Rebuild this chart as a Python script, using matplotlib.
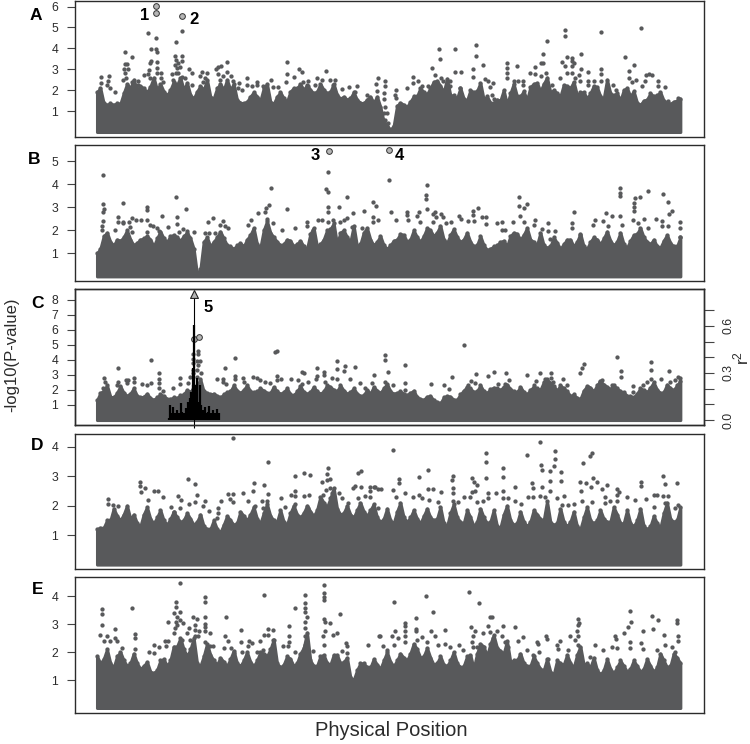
import numpy as np
import matplotlib
matplotlib.use("Agg")
import matplotlib.pyplot as plt

plt.rcParams['font.family'] = ['Liberation Sans', 'DejaVu Sans']
plt.rcParams['mathtext.default'] = 'regular'

DARK = '#58595b'
INK = '#2b2b2b'

# top of the solid band of points, one value every 20 position units
a_top = [1.9,1.37,1.37,1.37,1.85,2.09,2.01,2.09,2.17,2.01,1.93,2.01,2.25,2.01,1.77,1.93,2.01,1.69,2.09,2.01,2.01,1.53,1.37,1.69,1.69,2.09,1.45,1.69,1.61,1.93,2.09,2.01,2.01,1.93,2.01,1.93,1.77,1.69,1.61,1.53,1.37,
         1.69,1.69,0.5,0.1,1.25,1.3,1.45,1.7,1.9,2.1,2.45,1.9,1.75,1.6,1.6,2.0,1.95,1.55,1.4,1.55,2.0,1.85,1.7,1.95,2.15,2.35,2.3,1.9,1.85,2.25,2.1,1.75,1.9,1.85,2.15,1.6,1.85,1.85,2.0,1.7,1.4,1.5,1.85,1.75,1.5,1.35,1.5]
b_top = [1.0,1.75,1.5,1.6,1.7,1.6,1.45,1.65,1.6,1.65,1.65,1.75,1.7,1.75,1.65,0.1,1.5,1.3,1.7,1.65,1.3,1.35,1.3,1.8,1.4,2.0,1.9,1.5,1.4,1.55,1.4,1.3,1.85,1.3,1.6,2.05,1.4,2.0,1.5,1.3,1.9,
         1.6,1.5,1.35,1.35,1.6,1.8,1.6,1.7,1.75,2.0,1.9,1.6,1.8,1.7,1.6,1.5,1.35,1.35,1.2,1.35,1.55,1.75,1.85,1.8,1.6,1.35,1.35,1.3,1.45,1.4,1.6,1.5,1.3,1.5,1.6,1.65,1.55,1.5,1.4,1.55,1.85,1.7,1.4,1.3,1.55,1.45,1.3]
c_top = [1.3,1.95,1.55,1.8,1.8,1.75,1.6,1.55,1.45,1.5,1.6,1.4,1.45,1.7,1.85,2.3,1.9,1.7,1.6,1.7,1.9,1.95,2.0,1.9,1.9,1.95,1.8,1.9,1.85,1.7,1.9,1.85,1.85,1.9,1.9,2.2,1.9,1.95,1.85,1.75,1.65,
         1.75,1.95,2.1,1.9,1.8,1.75,1.8,1.5,1.35,1.6,1.2,1.5,1.55,1.35,1.95,2.1,1.9,1.9,2.05,2.1,2.2,2.05,1.85,1.85,2.0,2.1,2.5,2.45,1.95,2.1,1.6,1.45,1.95,2.15,2.3,2.35,2.05,2.1,1.85,1.6,1.75,2.0,2.15,2.0,1.85,2.1,2.3]
d_top = [1.2,1.25,1.5,1.65,1.7,1.55,1.4,1.7,1.55,1.6,1.5,1.55,1.6,1.5,1.55,1.45,1.3,1.2,1.2,1.35,1.5,1.4,1.65,1.7,1.55,1.75,1.65,1.45,1.45,1.75,1.7,1.75,1.8,1.85,2.1,2.25,1.9,1.75,1.7,1.85,1.8,
         1.85,1.6,1.55,1.5,1.8,1.6,1.6,1.55,1.65,1.6,1.55,1.4,1.75,1.6,1.4,1.6,1.45,1.6,1.45,1.3,1.7,1.5,1.4,1.45,1.45,1.7,1.5,1.45,1.4,1.45,1.45,1.3,1.6,1.5,1.5,1.55,1.45,1.7,1.4,1.4,1.5,1.3,1.3,1.4,1.75,1.55,1.5]
e_top = [1.85,1.75,1.6,1.85,1.7,1.6,1.6,1.5,1.3,1.35,1.75,1.7,2.2,2.1,2.1,1.6,1.85,1.9,1.55,1.65,1.75,1.6,1.7,1.65,1.7,1.95,2.1,1.6,1.55,1.75,1.6,2.15,1.7,1.5,1.9,1.55,1.9,1.65,1.1,1.35,1.6,
         1.45,1.55,1.7,1.65,1.7,1.8,1.95,2.1,1.85,1.8,1.6,1.55,1.7,1.6,1.5,1.9,1.95,2.2,2.3,2.15,1.95,1.65,1.7,1.6,1.5,1.6,1.35,1.3,1.7,1.55,1.6,1.9,1.55,1.45,1.35,1.35,1.4,1.45,1.5,1.4,1.5,1.4,1.5,1.45,1.7,1.5,1.8]

# the same band read halfway between those positions (spikes and notches)
a_mid = [2.1,1.3,1.3,1.35,2.3,2.5,2.2,1.9,2.6,2.3,1.75,2.4,2.6,2.35,1.6,2.2,2.5,1.6,2.3,2.5,2.3,1.4,1.45,1.9,1.5,2.3,1.35,1.9,1.45,2.1,2.3,2.25,1.85,2.3,1.85,2.3,1.6,1.55,1.9,1.4,1.55,
         1.4,1.2,0.3,0.3,1.4,1.2,1.7,2.1,1.8,2.4,2.2,2.55,1.75,2.1,1.5,1.9,2.35,1.7,1.4,1.5,1.3,2.3,1.7,1.5,2.3,1.95,2.6,2.0,1.7,2.2,2.4,1.9,1.6,2.2,1.7,2.5,1.75,1.5,2.1,1.95,1.3,1.55,1.7,1.9,1.4,1.45,1.6]
b_mid = [1.2,1.9,1.35,1.55,2.0,1.35,1.6,1.75,1.3,1.95,1.5,1.8,1.55,1.9,1.2,0.3,1.7,1.5,1.95,1.35,1.2,1.45,1.6,2.1,1.25,2.4,1.7,1.35,1.6,1.3,1.55,1.2,2.1,1.4,2.0,2.3,1.9,1.7,2.2,1.4,2.1,
         1.35,1.75,1.2,1.55,1.85,1.5,2.0,1.5,2.1,1.75,2.2,1.45,2.05,1.5,1.9,1.3,1.75,1.15,1.3,1.5,1.3,1.9,1.6,2.1,1.5,1.9,1.25,1.7,1.2,1.6,1.3,1.85,1.2,1.7,1.4,1.95,1.35,1.9,1.25,1.8,2.1,1.5,1.6,1.25,1.8,1.3,1.7]
c_mid = [1.8,2.3,1.5,2.25,1.6,2.1,1.5,1.75,1.35,1.7,1.4,1.5,1.65,2.0,2.2,2.7,1.8,1.75,1.5,1.85,2.3,1.8,2.3,1.85,2.1,1.8,2.2,1.75,2.1,1.65,2.25,1.75,2.2,1.75,2.3,2.0,2.3,1.75,2.1,1.6,2.0,
         2.2,1.8,2.4,1.75,1.9,1.65,1.95,1.4,1.55,1.3,1.1,1.6,1.35,1.7,2.2,1.85,2.3,1.8,2.15,2.0,2.35,1.9,2.2,1.7,2.2,2.0,2.7,2.25,2.3,1.9,1.7,1.4,2.25,1.9,2.6,2.2,2.3,1.9,1.6,1.5,2.1,1.85,2.5,1.8,2.35,2.0,2.6]
d_mid = [1.25,1.5,1.9,1.5,2.0,1.7,1.3,1.95,1.4,1.85,1.35,1.8,1.45,1.75,1.35,1.7,1.2,1.5,1.1,1.65,1.35,1.8,1.5,1.95,1.4,2.05,1.5,1.85,1.35,2.0,1.6,2.0,1.65,2.3,1.95,2.6,1.7,2.0,1.6,2.1,1.65,
         2.05,1.45,1.9,1.4,2.1,1.45,1.85,1.4,1.9,1.5,1.95,1.3,2.05,1.45,1.85,1.3,1.9,1.4,1.85,1.25,2.0,1.35,1.8,1.3,1.85,1.55,2.15,1.35,1.9,1.3,1.8,1.2,1.95,1.4,1.85,1.45,1.95,1.4,1.85,1.3,1.9,1.2,1.65,1.25,2.1,1.45,1.95]
e_mid = [1.6,2.1,1.45,2.0,1.5,1.95,1.4,1.65,1.25,1.7,1.5,2.2,2.5,1.85,2.5,1.5,2.3,1.7,1.8,1.5,2.05,1.5,2.0,1.5,2.0,1.85,2.45,1.45,1.85,1.5,1.95,2.7,1.5,1.85,1.6,1.9,1.6,1.8,1.0,1.6,1.45,
         1.75,1.4,2.0,1.5,1.95,1.7,2.3,1.8,2.15,1.55,1.85,1.5,2.0,1.45,1.85,1.4,2.3,1.85,2.6,2.05,2.4,1.7,1.95,1.5,1.85,1.4,1.75,1.2,1.6,1.9,1.45,2.2,1.6,1.8,1.2,1.75,1.25,1.7,1.3,1.7,1.3,1.75,1.3,1.95,1.45,1.95,1.6]

# single SNPs standing out above the band: (position, -log10 P)
a_snps = [(153,4.75),(177,4.51),(255,4.85),(237,4.29),(84,3.84),(104,3.57),(162,3.97),(177,3.96),(179,3.84),(162,3.4),(159,3.29),(179,3.37),(181,3.08),
 (234,3.64),(254,3.64),(236,3.45),(254,3.4),(244,3.29),(234,3.2),(249,3.13),(239,3.05),(276,3.0),(284,2.81),(84,3.24),(89,3.24),(81,3.01),(94,3.0),(84,2.81),(87,2.57),(79,2.49),(104,2.38),(122,2.44),(122,2.25),
 (12,2.62),(12,2.33),(35,2.66),(34,2.44),(29,2.25),(39,2.09),(54,1.93),(142,2.73),(154,2.78),(157,2.97),(159,2.57),(179,2.84),(191,2.84),(192,2.57),(199,2.41),
 (224,2.78),(237,2.84),(244,2.84),(254,2.65),(264,2.57),(229,2.49),(286,2.25),(314,2.89),(329,2.84),(309,2.68),(324,2.57),(319,2.41),
 (356,3.0),(364,3.09),(372,3.16),(390,3.37),(390,2.89),(364,2.78),(379,2.68),(402,2.68),(369,2.49),(409,2.44),(425,2.33),(424,2.09),(434,2.01),
 (450,2.6),(449,2.25),(464,2.2),(481,2.41),(479,2.25),(522,2.49),(499,2.2),(527,2.17),(544,2.17),(566,2.41),(569,3.33),(569,2.78),(591,2.65),(606,3.01),(614,2.89),(617,2.41),(634,2.44),(634,2.2),(654,2.25),(659,2.57),(674,2.49),(688,2.92),(699,2.49),(714,2.49),(709,2.25),(736,2.04),(757,2.17),(781,2.2),(774,1.93),(809,1.77),(842,2.58),(836,2.3),(841,1.98),
 (864,2.44),(864,2.2),(861,1.85),(861,1.56),(864,1.18),(861,.89),(869,.89),(849,.41),(864,.57),(874,.41),(874,.18),(897,2.01),(894,1.77),(897,1.61),
 (1026,3.97),(1029,3.48),(1005,3.08),(1015,2.73),(1031,2.57),(1039,2.44),(1059,2.44),(1059,2.2),(1074,3.97),(1074,2.89),(1091,2.89),(1089,2.09),(1137,4.16),(1137,3.65),(1159,3.19),(1129,3.01),(1129,2.65),(1164,2.54),(1174,2.44),(1189,2.33),(1179,2.14),(1184,1.77),(1191,1.56),
 (949,2.62),(949,2.33),(929,2.12),(964,2.44),(974,2.2),(994,2.2),(1231,3.29),(1231,3.08),(1231,2.84),(1231,2.57),(1259,3.16),(1251,2.44),(1264,2.44),(1279,2.44),(1279,2.25),
 (1299,2.81),(1314,2.78),(1314,3.13),(1331,3.29),(1339,3.29),(1339,3.73),(1349,4.34),(1331,2.68),(1346,2.81),(1364,2.25),(1389,2.57),
 (1404,4.88),(1404,4.61),(1394,3.37),(1409,3.6),(1404,3.17),(1426,3.52),(1426,3.41),(1432,3.29),(1426,3.17),(1451,3.72),(1451,3.01),(1447,2.73),(1449,2.44),(1409,2.84),(1424,2.84),(1434,2.57),(1473,2.89),(1473,2.44),(1473,2.25),(1491,2.44),(1511,4.77),(1513,3.01),(1513,2.78),(1513,2.44),(1547,2.25),(1557,2.01),
 (1584,3.57),(1611,3.19),(1597,2.92),(1597,2.57),(1617,2.49),(1604,2.41),(1633,4.98),(1647,2.73),(1657,2.78),(1664,2.73),(1644,2.44),(1634,2.2),(1684,2.44),(1684,2.2),(1704,2.14),(1714,1.48),(1744,1.61)]

b_snps = [(18,4.39),(18,3.14),(20,2.91),(17,2.81),(17,2.42),(15,2.19),(15,2.01),(79,3.17),(64,2.57),(64,2.38),(77,2.38),(79,2.3),(54,2.01),(104,2.55),(117,2.45),(131,2.45),(97,2.38),(99,2.13),(104,1.94),
 (151,3.03),(151,2.88),(149,2.45),(159,2.23),(149,1.94),(169,2.19),(179,2.09),(187,1.99),(195,2.62),(214,2.16),(236,3.46),(239,2.57),(266,2.93),(241,2.26),(246,1.94),(259,2.04),(291,1.94),(269,1.99),
 (334,2.35),(349,2.52),(324,1.9),(337,1.9),(354,1.9),(369,2.23),(379,2.41),(384,2.19),(394,2.09),(461,2.45),(454,2.23),(484,2.74),(507,2.96),(515,3.1),(521,3.83),(509,2.49),(529,2.3),(504,2.81),(569,2.91),(554,2.01),(594,2.09),(631,2.38),(631,2.19),(664,2.45),(674,2.45),(649,2.01),
 (694,4.54),(687,3.78),(694,3.65),(751,3.43),(727,3.03),(694,3.03),(694,2.81),(767,2.77),(802,2.84),(827,3.25),(836,3.07),(749,2.55),(729,2.38),(742,2.45),(709,2.45),(694,2.38),(829,2.59),(829,2.38),(844,2.45),(764,2.13),(794,2.09),
 (877,4.19),(991,3.99),(986,3.54),(986,3.35),(991,2.93),(882,2.78),(896,2.45),(929,2.78),(929,2.67),(967,2.81),(961,2.62),(934,2.45),(969,2.38),(1014,2.78),(1009,2.71),(1016,2.57),(1031,2.71),(1039,2.59),(1009,2.38),(1047,2.3),(1062,2.35),(1087,2.62),(1091,2.48),(1114,2.41),(1129,2.86),(1144,2.96),(1129,2.67),(1131,2.41),(1154,2.59),(1166,2.59),(1166,2.26),
 (1199,2.3),(1214,2.38),(1214,2.01),(1224,2.01),(1247,2.38),(1266,3.43),(1266,3.07),(1289,3.14),(1282,2.96),(1269,2.62),(1281,2.38),(1314,2.45),(1311,2.23),(1354,2.3),(1334,2.04),(1354,1.99),(1374,1.99),(1359,1.61),(1432,2.78),(1424,2.3),(1426,2.09),(1449,1.8),
 (1494,2.45),(1489,2.23),(1519,2.41),(1526,2.74),(1544,2.64),(1569,3.86),(1569,3.61),(1569,3.51),(1569,2.64),(1574,2.23),(1534,2.19),
 (1614,3.39),(1629,3.46),(1654,3.71),(1699,3.58),(1712,3.22),(1611,3.17),(1612,3.03),(1612,2.84),(1724,2.84),(1716,2.71),(1609,2.45),(1641,2.49),(1624,2.3),(1677,2.49),(1696,2.41),(1694,2.19),(1714,2.19),(1749,2.38),(1749,2.1),(1749,1.72),(1654,2.09)]

c_snps = [(64,3.43),(162,3.96),(187,3.1),(162,2.48),(187,2.7),(187,2.44),(22,2.81),(24,2.55),(19,2.1),(64,2.55),(59,2.33),(87,2.66),(94,2.66),(89,2.44),(112,2.81),(112,2.55),(134,2.37),(149,2.33),(187,2.1),(227,2.1),(249,2.81),(249,2.39),(199,1.93),
 (287,4.36),(304,4.61),(304,4.36),(287,4.05),(299,3.92),(309,3.92),(304,3.65),(287,3.77),(287,3.32),(299,3.32),(289,3.1),(312,3.1),(279,2.88),(299,2.88),(274,2.44),
 (359,2.7),(377,2.72),(379,2.5),(386,2.39),(385,3.48),(414,4.1),(414,2.95),(414,2.7),(439,2.77),(441,2.5),(469,2.88),(479,2.81),(489,2.66),(504,2.5),(519,2.44),(534,4.54),(539,4.61),(539,2.95),(539,2.66),(552,2.7),(582,2.72),(602,2.66),(614,3.21),(621,3.1),(614,2.37),(634,2.5),(659,3.43),(659,2.95),(657,2.7),(682,3.17),(682,2.99),(684,2.55),(704,2.81),(721,3.92),(719,3.39),(721,2.7),(744,3.59),(742,3.26),(775,3.54),(759,2.7),(789,2.44),(826,2.44),(831,2.99),(804,2.1),
 (865,4.32),(864,3.99),(874,3.17),(924,3.63),(924,2.44),(924,1.99),(864,2.55),(889,2.33),(1001,2.39),(1041,2.33),(1055,2.06),(1065,2.86),(1101,4.96),(1137,3.06),(1121,2.59),(1114,2.33),(1134,2.44),(1173,2.92),(1191,3.21),(1227,3.1),(1235,2.68),(1204,2.37),(1224,2.37),
 (1290,2.99),(1317,2.59),(1311,2.33),(1328,3.1),(1361,3.1),(1361,2.81),(1344,2.72),(1369,2.55),(1349,2.44),(1397,2.7),(1409,2.33),(1449,3.15),(1455,3.48),(1461,3.7),(1474,2.21),(1514,2.66),(1509,2.55),(1559,4.19),(1571,3.28),(1571,2.88),(1546,2.33),(1609,2.28),(1662,3.83),(1662,3.3),(1662,2.7),(1649,2.5),(1692,2.72),(1715,3.28),(1719,2.55),(1734,2.66),(1744,2.88),(1749,2.77),(1637,2.33),(1609,1.88)]

d_snps = [(409,4.29),(514,3.47),(694,3.29),(595,3.02),(621,3.11),(638,3.04),(691,3.07),(791,3.16),(784,3.1),(129,2.81),(129,2.67),(144,2.59),(131,2.46),(272,2.9),(293,2.74),(472,2.78),(502,2.71),(469,2.49),(437,2.44),(394,2.39),(409,2.39),(399,2.23),(407,2.12),(594,2.51),(581,2.37),(594,2.34),(621,2.34),(637,2.37),(514,2.4),(301,2.37),(242,2.33),(251,2.2),(172,2.49),(184,2.49),(199,2.28),(154,2.2),(34,2.24),(34,2.06),(49,2.03),(64,1.99),(222,1.94),(232,1.8),(249,1.91),(276,2.06),(294,2.14),(324,2.17),(319,1.99),(336,1.83),(372,2.15),(362,1.91),(362,1.74),(361,1.57),(454,2.15),(474,1.99),(494,2.17),(509,2.17),(499,1.91),(552,2.25),(564,1.97),(594,2.06),(634,1.91),(674,2.82),(689,2.87),(699,2.9),(687,2.54),(679,2.37),(699,2.59),(704,2.42),(725,2.42),(734,2.25),(774,2.68),(769,2.59),(791,2.63),(819,2.63),(819,2.49),(831,2.63),(804,2.33),(819,2.31),(784,2.25),(842,2.56),(754,2.08),(844,1.91),
 (889,3.9),(906,2.9),(906,2.76),(889,2.54),(851,2.57),(833,2.63),(924,2.42),(897,2.31),(966,2.99),(992,3.21),(966,2.37),(974,2.25),(949,2.29),(994,2.56),(1009,2.58),(997,2.2),(1033,2.48),(1024,2.14),(1069,3.02),(1066,2.87),(1067,2.59),(1067,2.42),(1067,2.17),(1084,2.14),(1102,2.31),(1124,2.93),(1131,2.82),(1139,2.71),(1124,2.48),(1134,2.5),(1119,2.31),(1139,2.11),(1167,3.79),(1167,3.49),(1167,2.93),(1174,2.42),(1174,2.25),(1159,2.16),(1197,2.42),(1219,3.27),(1219,2.99),(1219,2.5),(1219,2.25),(1232,2.25),(1255,2.65),(1254,2.17),(1271,2.06),(1290,3.72),(1306,2.76),(1307,2.59),(1294,2.31),(1309,2.31),(1329,4.16),(1332,3.38),(1335,3.21),(1360,3.16),(1373,3.87),(1373,3.59),(1371,3.36),(1392,3.14),(1392,2.85),(1359,2.85),(1335,2.65),(1359,2.51),(1329,2.34),(1344,2.31),(1379,2.25),(1401,2.34),(1394,2.03),(1414,2.03),(1431,2.06),(1457,3.44),(1484,3.8),(1479,3.67),(1449,2.82),(1467,2.78),(1487,2.93),(1499,2.82),(1482,2.63),(1451,2.5),(1456,2.17),(1484,2.11),(1529,2.71),(1514,2.57),(1524,2.31),(1539,2.17),(1524,2.08),(1559,2.56),(1567,2.48),(1559,2.37),(1589,2.31),(1561,2.17),(1614,2.2),(1632,2.82),(1632,2.67),(1647,2.23),(1671,2.37),(1679,2.37),(1697,3.02),(1703,2.74),(1739,2.78),(1699,2.34),(1714,2.34),(1671,1.97),(1744,2.03),(1734,1.91),(1704,2.08)]

e_snps = [(249,4.49),(682,4.41),(682,4.11),(682,3.99),(682,3.85),(625,4.05),(502,4.03),(324,3.99),(324,3.81),(236,3.79),(236,3.6),(106,3.57),(15,3.54),(15,3.37),(14,2.97),(8,2.62),(593,3.57),(729,3.38),(387,3.27),(232,3.39),(249,3.43),(239,3.25),(212,3.09),(236,3.09),(249,3.15),(259,3.03),(239,2.97),(234,2.86),(289,3.25),(299,3.18),(324,3.25),(324,3.01),(324,2.89),(294,2.97),(276,2.86),(294,2.8),(306,2.77),(324,2.74),(339,2.7),(294,2.58),(304,2.56),(269,2.68),(231,2.68),(54,2.82),(54,2.52),(59,2.4),(29,2.58),(39,2.4),(22,2.4),(114,2.65),(114,2.5),(114,2.1),(74,2.16),(171,2.25),(187,2.2),(156,2.02),(171,1.96),(204,2.41),(212,2.41),(206,2.22),
 (254,2.44),(279,2.44),(289,2.26),(324,2.38),(339,2.22),(349,2.22),(384,2.56),(394,2.41),(381,2.14),(402,2.16),(411,1.96),(433,2.78),(432,2.35),(434,2.02),(457,2.41),(464,2.34),(454,2.22),(479,2.02),(489,2.4),(501,2.62),(512,2.82),(529,2.8),(514,2.62),(529,2.44),(529,2.26),(499,2.08),
 (575,2.95),(575,2.56),(577,2.38),(559,2.22),(574,2.22),(594,2.02),(624,3.75),(624,3.57),(624,3.45),(629,3.27),(624,3.09),(624,2.86),(624,2.56),(624,2.26),(649,2.04),(681,3.19),(684,3.09),(700,3.06),(684,2.76),(679,2.59),(707,2.62),(719,2.7),(681,2.26),(734,2.04),(746,2.32),(751,2.22),(749,1.96),(814,2.26),(847,2.58),
 (892,3.79),(987,4.0),(1115,4.16),(1147,3.76),(1009,3.43),(957,3.21),(924,3.06),(924,2.92),(924,2.74),(924,2.58),(924,2.38),(894,2.77),(884,2.56),(904,2.5),(849,2.59),(891,2.26),(859,2.22),(869,2.08),
 (957,2.82),(957,2.74),(974,2.53),(959,2.44),(989,2.35),(1002,2.76),(1014,2.59),(1044,2.78),(1024,2.26),(1044,2.29),(1059,2.2),(1087,2.26),(1099,2.08),
 (1121,2.89),(1134,2.74),(1129,2.56),(1124,2.38),(1129,2.2),(1141,2.2),(1179,3.27),(1184,3.27),(1174,2.92),(1159,2.68),(1179,2.71),(1199,2.76),(1219,2.92),(1253,2.9),(1214,2.56),(1224,2.38),(1189,2.5),(1234,2.17),(1264,2.4),(1277,2.53),(1291,2.08),(1319,2.38),(1324,2.29),(1346,2.59),(1351,2.46),(1327,2.02),(1309,1.9),(1354,1.74),
 (1389,2.41),(1379,2.26),(1384,2.1),(1444,3.18),(1447,3.06),(1444,2.97),(1439,2.74),(1444,2.59),(1419,2.56),(1434,2.44),(1444,2.26),(1414,2.08),(1449,2.02),(1494,2.26),(1519,2.08),(1544,2.2),(1554,2.59),(1556,2.46),(1559,2.14),(1479,1.84),
 (1599,3.49),(1601,3.09),(1594,2.89),(1582,2.7),(1599,2.35),(1599,2.14),(1637,2.77),(1632,2.32),(1639,2.11),(1664,3.3),(1682,3.15),(1667,2.82),(1701,2.62),(1703,2.26),(1679,2.08),(1739,3.15),(1739,3.03),(1742,2.56),(1742,2.41),(1724,2.17),(1734,2.02)]

# highlighted SNPs in grey
a_hits = [(177,6.01),(177,5.68),(254,5.57)]
b_hits = [(697,5.43),(877,5.48)]
c_hits = [(292,5.38),(306,5.51)]

# LD around the lead SNP in panel C
ld_pos = [217,219,225,229,235,239,245,251,255,261,267,273,279,283,287,289,292,293,297,301,305,309,313,317,321,325,329,333,337,343,349,355,361,367]
ld_r2 = [.01,.096,.042,.085,.042,.064,.042,.106,.053,.042,.074,.117,.138,.18,.223,.329,.605,.223,.159,.265,.117,.223,.096,.064,.053,.085,.042,.053,.091,.042,.064,.042,.07,.042]
lead_pos = 292
lead_logp = 8.35

panel_names = ['A', 'B', 'C', 'D', 'E']
panel_tops = [a_top, b_top, c_top, d_top, e_top]
panel_mids = [a_mid, b_mid, c_mid, d_mid, e_mid]
panel_snps = [a_snps, b_snps, c_snps, d_snps, e_snps]
panel_hits = [a_hits, b_hits, c_hits, [], []]
panel_ticks = [[1,2,3,4,5,6], [1,2,3,4,5], [1,2,3,4,5,6,7,8], [1,2,3,4], [1,2,3,4]]

# pixel layout: top, bottom, ymin, ymax
W, H = 750, 744
boxes = [(1.3, 137, -0.24, 6.25), (145, 281, -0.2, 5.71), (289, 425, -0.33, 8.7), (433.5, 568.7, -0.14, 4.45), (577, 713, -0.18, 4.69)]
letter_xy = [(36, 15), (34, 159), (38, 303), (37, 445), (38, 589)]
number_xy = [('1', 145, 16), ('2', 194, 20), ('3', 315, 156), ('4', 399, 155), ('5', 208, 307)]

fig = plt.figure(figsize=(7.5, 7.44), dpi=100)

for i in range(5):
    top_px, bot_px, ymin, ymax = boxes[i]
    ax = fig.add_axes([75/W, 1-bot_px/H, (703.5-75)/W, (bot_px-top_px)/H])
    # zip the two readings into one silhouette, every 10 units
    band = np.column_stack([panel_tops[i], panel_mids[i]]).ravel()
    pos = 10*np.arange(len(band))
    ax.fill_between(pos, 0, band, color=DARK, lw=2.2, zorder=2)
    ax.scatter(pos, band, s=9.5, color=DARK, lw=0, zorder=2)
    snps = np.array(panel_snps[i]).T
    ax.scatter(snps[0], snps[1], s=9.5, color=DARK, lw=0, zorder=3)
    if panel_hits[i]:
        hits = np.array(panel_hits[i]).T
        ax.scatter(hits[0], hits[1], s=17, facecolor='#b5b5b5', edgecolor='#333333', lw=0.7, zorder=5)
    ax.set_xlim(-66, 1819.5)
    ax.set_ylim(ymin, ymax)
    ax.set_xticks([])
    ax.set_yticks(panel_ticks[i])
    ax.tick_params(axis='y', length=6, width=0.8, color='#444444', pad=6, labelsize=8.8, labelcolor=INK)
    for s in ax.spines.values():
        s.set_linewidth(1.0)
        s.set_color(INK)
    fig.text(letter_xy[i][0]/W, 1-letter_xy[i][1]/H, panel_names[i], fontsize=12.5, fontweight='bold', ha='center', va='center', color='black')

    if i == 2:
        ax.vlines(lead_pos, ymin-0.2, lead_logp, color='black', lw=0.8, zorder=6, clip_on=False)
        ax.scatter([lead_pos], [lead_logp], marker='^', s=32, facecolor='#b5b5b5', edgecolor='#222222', lw=0.8, zorder=7)
        ax2 = ax.twinx()
        ax2.set_ylim(ymin*45.15/470, ymax*45.15/470)
        ax2.vlines(ld_pos, 0, ld_r2, color='black', lw=1.6, zorder=6)
        ax2.set_yticks([0, .1, .2, .3, .4, .5, .6, .7])
        ax2.set_yticklabels(['0.0', '', '', '0.3', '', '', '0.6', ''], rotation=90, va='center')
        ax2.tick_params(axis='y', length=7, width=0.8, color='#444444', pad=7, labelsize=8.8, labelcolor=INK)
        for s in ax2.spines.values():
            s.set_linewidth(1.0)
            s.set_color(INK)
        ax.set_zorder(2)
        ax2.set_zorder(3)

for label, x, y in number_xy:
    fig.text(x/W, 1-y/H, label, fontsize=12, fontweight='bold', ha='center', va='center', color='black')

fig.text(12/W, 1-355/H, '-log10(P-value)', fontsize=12, rotation=90, ha='center', va='center', color=INK)
fig.text(391/W, 1-731/H, 'Physical Position', fontsize=14.5, ha='center', va='center', color=INK)
fig.text(741/W, 1-358/H, 'r$^{2}$', fontsize=12.5, rotation=90, ha='center', va='center', color=INK)

fig.savefig('out.png', dpi=100)
